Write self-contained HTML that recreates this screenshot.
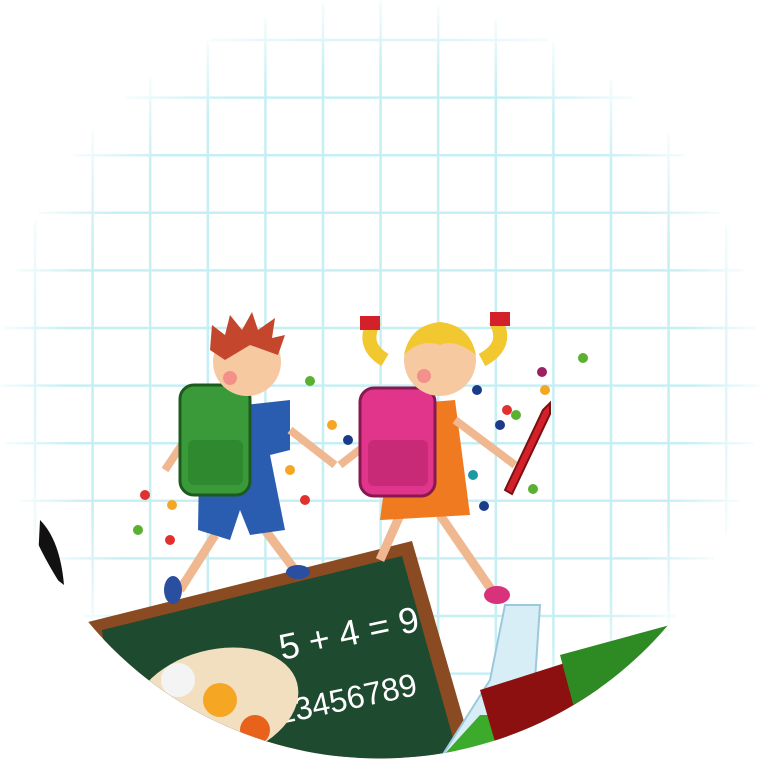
<!DOCTYPE html>
<html><head><meta charset="utf-8"><style>
html,body{margin:0;padding:0;background:#fff;width:759px;height:759px;overflow:hidden}
</style></head><body>
<svg width="759" height="759" viewBox="0 0 759 759">
<defs>
<clipPath id="c"><circle cx="379.5" cy="379.5" r="379"/></clipPath>
<radialGradient id="fade" cx="50%" cy="50%" r="50%">
<stop offset="0.82" stop-color="#fff" stop-opacity="0"/><stop offset="1" stop-color="#fff" stop-opacity="0.85"/></radialGradient>
</defs>
<g clip-path="url(#c)">
<rect width="759" height="759" fill="#fff"/>
<g stroke="#c6eff3" stroke-width="2.5" id="grid"></g>
<rect width="759" height="759" fill="url(#fade)"/>
<!-- black shape left -->
<path d="M40 520 Q60 540 64 585 Q50 575 38 560 Z" fill="#111"/>
<!-- chalkboard -->
<g>
<polygon points="88,622 412,541 478,770 110,790" fill="#8a4a22"/>
<polygon points="102,630 402,556 462,770 120,790" fill="#1e4a30"/>
<text x="282" y="660" fill="#fff" font-family="Liberation Sans, sans-serif" font-size="36" transform="rotate(-12 282 660)">5 + 4 = 9</text>
<text x="262" y="728" fill="#fff" font-family="Liberation Sans, sans-serif" font-size="32" transform="rotate(-12 262 728)">123456789</text>
<g>
<ellipse cx="215" cy="705" rx="85" ry="55" fill="#f2dfc0" transform="rotate(-15 215 705)"/>
<circle cx="178" cy="680" r="17" fill="#f4f4f4"/>
<circle cx="220" cy="700" r="17" fill="#f5a623"/>
<circle cx="255" cy="730" r="15" fill="#e8621b"/>
<circle cx="200" cy="740" r="15" fill="#e03030"/>
</g>
</g>
<!-- flask & books -->
<g>
<path d="M505 605 L540 605 L535 680 L560 759 L440 759 L490 680 Z" fill="#d8eef6" stroke="#9bc8dd" stroke-width="2"/>
<path d="M480 715 L545 715 L560 759 L440 759 Z" fill="#3caa2a"/>
</g>
<g>
<polygon points="480,690 590,655 610,730 500,759" fill="#8c1010"/>
<polygon points="560,655 670,625 690,700 580,730" fill="#2e8a22"/>
</g>
<!-- boy -->
<g>
<path d="M215 535 L180 590" stroke="#f0b891" stroke-width="9"/>
<path d="M265 530 L295 570" stroke="#f0b891" stroke-width="9"/>
<ellipse cx="173" cy="590" rx="9" ry="14" fill="#2a4fa0"/>
<ellipse cx="298" cy="572" rx="12" ry="7" fill="#2a4fa0"/>
<path d="M200 410 L290 400 L290 450 L270 455 L285 530 L250 535 L240 510 L230 540 L198 530 Z" fill="#2a5db0"/>
<path d="M290 430 L335 465" stroke="#f0b891" stroke-width="8"/>
<path d="M185 440 L165 470" stroke="#f0b891" stroke-width="8"/>
<rect x="180" y="385" width="70" height="110" rx="14" fill="#3a9a3a" stroke="#1d5a1d" stroke-width="3"/>
<rect x="188" y="440" width="55" height="45" rx="6" fill="#2f8a2f"/>
<circle cx="247" cy="362" r="34" fill="#f6c9a0"/>
<path d="M210 350 L212 325 L225 335 L230 315 L242 330 L252 312 L258 330 L275 318 L272 338 L285 335 L278 355 L250 345 L225 360 Z" fill="#c4462c"/>
<circle cx="230" cy="378" r="7" fill="#f3908a"/>
</g>
<!-- girl -->
<g>
<path d="M400 515 L380 560" stroke="#f0b891" stroke-width="9"/>
<path d="M440 515 L495 595" stroke="#f0b891" stroke-width="9"/>
<ellipse cx="497" cy="595" rx="13" ry="9" fill="#d8337a"/>
<path d="M395 405 L455 400 L470 515 L380 520 Z" fill="#f07a20"/>
<path d="M340 465 L385 430" stroke="#f0b891" stroke-width="8"/>
<path d="M455 420 L515 465" stroke="#f0b891" stroke-width="8"/>
<rect x="360" y="388" width="75" height="108" rx="14" fill="#e0358a" stroke="#8a1850" stroke-width="3"/>
<rect x="368" y="440" width="60" height="46" rx="6" fill="#c82a78"/>
<path d="M375 320 Q360 345 385 360" stroke="#f2c830" stroke-width="14" fill="none"/>
<path d="M495 320 Q510 345 482 360" stroke="#f2c830" stroke-width="14" fill="none"/>
<circle cx="440" cy="360" r="36" fill="#f6c9a0"/>
<path d="M404 355 Q410 325 440 322 Q470 325 476 355 Q455 338 440 345 Q420 338 404 355 Z" fill="#f2c830"/>
<rect x="360" y="316" width="20" height="14" fill="#d4202a"/>
<rect x="490" y="312" width="20" height="14" fill="#d4202a"/>
<circle cx="424" cy="376" r="7" fill="#f3908a"/>
<path d="M505 490 L543 410 L550 403 L550 414 L512 494 Z" fill="#d4202a" stroke="#7a1010" stroke-width="2"/>
</g>
<!-- confetti -->
<g id="conf"></g>
</g>
</svg>
<script>
const g=document.getElementById('grid');
for(let i=0;i<14;i++){const x=35+i*57.6;const l=document.createElementNS('http://www.w3.org/2000/svg','line');


l.setAttribute('x1',x);l.setAttribute('x2',x);l.setAttribute('y1',0);l.setAttribute('y2',759);g.appendChild(l);}
for(let i=0;i<14;i++){const y=40+i*57.6;const l=document.createElementNS('http://www.w3.org/2000/svg','line');


l.setAttribute('y1',y);l.setAttribute('y2',y);l.setAttribute('x1',0);l.setAttribute('x2',759);g.appendChild(l);}
const dots=[[310,381,'#5ab030'],[332,425,'#f5a623'],[348,440,'#1a3a8a'],[290,470,'#f5a623'],[305,500,'#e03030'],[145,495,'#e03030'],[172,505,'#f5a623'],[138,530,'#5ab030'],[170,540,'#e03030'],[477,390,'#1a3a8a'],[500,425,'#1a3a8a'],[507,410,'#e03030'],[516,415,'#5ab030'],[542,372,'#9a2060'],[545,390,'#f5a623'],[583,358,'#5ab030'],[473,475,'#1a9aa0'],[484,506,'#1a3a8a'],[533,489,'#5ab030']];
const c=document.getElementById('conf');
dots.forEach(d=>{const e=document.createElementNS('http://www.w3.org/2000/svg','circle');


e.setAttribute('cx',d[0]);e.setAttribute('cy',d[1]);e.setAttribute('r',5);e.setAttribute('fill',d[2]);c.appendChild(e);});
</script>
</body></html>
